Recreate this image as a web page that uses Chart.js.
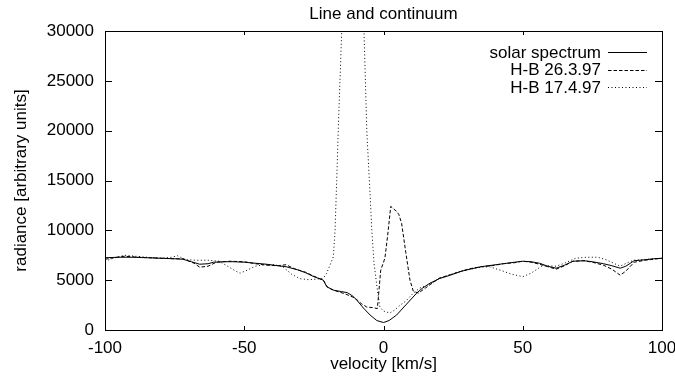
<!DOCTYPE html>
<html>
<head>
<meta charset="utf-8">
<script src="https://cdn.jsdelivr.net/npm/chart.js@4/dist/chart.umd.min.js"></script>
<style>
  body { margin: 0; background: #fff; }
</style>
</head>
<body>
<canvas id="line_chart" width="675" height="379"></canvas>
<script>
// Chart data (velocity in km/s, radiance in arbitrary units)
const chart_title = "Line and continuum";
const x_ticks = [-100, -50, 0, 50, 100];
const y_ticks = [0, 5000, 10000, 15000, 20000, 25000, 30000];

const series_labels = ["solar spectrum", "H-B 26.3.97", "H-B 17.4.97"];

const solar_v = [-100, -95, -90, -85, -80, -75, -72, -69, -66, -63, -61, -57, -54, -50, -46, -42, -38, -35, -31, -28, -25, -21.6, -20.4, -18, -15, -13, -11, -9.6, -7.2, -4.8, -2.4, 0, 2, 4.7, 8.3, 11.9, 14, 16.7, 20, 24, 28, 31, 35, 39, 43, 47, 50, 53, 56, 59, 62, 65, 68, 72, 75, 79, 82, 85, 87, 90, 94, 97, 100];
const solar_r = [7250, 7300, 7300, 7250, 7200, 7150, 7100, 6850, 6600, 6650, 6800, 6850, 6850, 6800, 6700, 6600, 6450, 6350, 6050, 5750, 5350, 5000, 4350, 4000, 3850, 3750, 3400, 3000, 2200, 1500, 950, 750, 950, 1500, 2600, 3700, 4200, 4700, 5150, 5500, 5900, 6100, 6350, 6500, 6650, 6800, 6900, 6850, 6700, 6400, 6200, 6500, 6900, 6950, 6850, 6650, 6450, 6200, 6400, 6950, 7050, 7150, 7200];

const hb_march_v = [-100, -97, -93, -88, -84, -80, -76, -72, -68, -66, -63, -60, -55, -50, -46, -42, -38, -35, -32, -28, -25, -21.6, -20, -17, -14, -11, -9.6, -8, -6, -4, -2.2, -1, 0.5, 1.5, 2.6, 4.7, 5.5, 6.5, 8, 9.5, 10.7, 12.5, 15, 17, 20, 24, 28, 31, 35, 39, 43, 47, 50, 53, 56, 59, 62, 65, 68, 72, 75, 79, 82, 85, 87, 90, 94, 97, 100];
const hb_march_r = [7100, 7250, 7400, 7300, 7250, 7200, 7150, 7150, 6700, 6300, 6400, 6800, 6900, 6850, 6650, 6500, 6450, 6550, 6150, 5800, 5400, 5000, 4250, 3900, 3650, 3300, 3050, 2650, 2300, 2250, 2150, 6000, 7200, 9500, 12400, 11900, 11600, 10700, 7800, 5000, 3900, 3700, 4200, 4600, 5200, 5550, 5900, 6150, 6350, 6450, 6650, 6750, 6900, 6800, 6600, 6350, 6100, 6450, 6900, 6950, 6800, 6500, 6100, 5500, 5900, 6800, 7000, 7100, 7200];

const hb_april_v = [-100, -97, -93, -89, -85, -80, -76, -74, -71, -67, -63, -59, -56, -53, -51.5, -49, -46, -43, -39, -36, -33, -30, -27, -24, -21.6, -20.4, -18, -17.4, -16.8, -16.2, -15, -13, -10, -8, -7, -6, -4.8, -4.2, -3.4, -2.2, -1.3, 0, 2.3, 4, 6, 8, 10.7, 13, 16.7, 20, 24, 28, 32, 35, 38, 42, 46, 50, 53, 57, 62, 65, 69, 73, 77, 80, 83, 85, 88, 90, 95, 100];
const hb_april_r = [6900, 7200, 7500, 7400, 7300, 7200, 7300, 7450, 7050, 7000, 7000, 6900, 6400, 5900, 5700, 6000, 6400, 6550, 6550, 6300, 5600, 5150, 5050, 5100, 5200, 5700, 7350, 10000, 15000, 20500, 30000, 35000, 36000, 34000, 30000, 20000, 13500, 10000, 6700, 4000, 2300, 1900, 1700, 2000, 2500, 2900, 3700, 4200, 4600, 5150, 5550, 5900, 6150, 6300, 6350, 6000, 5600, 5350, 5700, 6450, 6400, 6700, 7200, 7300, 7300, 7050, 6650, 6400, 6800, 7000, 7100, 7200];

// pairing the arrays into points
function toPoints(v_list, r_list) {
  return v_list.map((v, i) => ({ x: v, y: r_list[i] }));
}

const font_family = "'Liberation Sans', Arial, Helvetica, sans-serif";
Chart.defaults.font.family = font_family;
Chart.defaults.font.size = 17;
Chart.defaults.color = "#000";

const line_dashes = [[], [3.5, 2], [1, 2.5]];

// frame, inward ticks, title and legend like gnuplot
const gnuplotFrame = {
  id: "gnuplot_frame",
  afterDraw(chart) {
    const ctx = chart.ctx;
    const area = chart.chartArea;
    const x_scale = chart.scales.x;
    const y_scale = chart.scales.y;
    ctx.save();
    ctx.strokeStyle = "#000";
    ctx.lineWidth = 1;
    ctx.strokeRect(area.left + 0.5, area.top + 0.5, area.right - area.left, area.bottom - area.top);

    ctx.beginPath();
    x_ticks.forEach((t) => {
      const px = Math.round(x_scale.getPixelForValue(t)) + 0.5;
      ctx.moveTo(px, area.bottom);
      ctx.lineTo(px, area.bottom - 4);
      ctx.moveTo(px, area.top);
      ctx.lineTo(px, area.top + 4);
    });
    y_ticks.forEach((t) => {
      const py = Math.round(y_scale.getPixelForValue(t)) + 0.5;
      ctx.moveTo(area.left, py);
      ctx.lineTo(area.left + 7, py);
      ctx.moveTo(area.right, py);
      ctx.lineTo(area.right - 7, py);
    });
    ctx.stroke();

    // title centred over the plot
    ctx.fillStyle = "#000";
    ctx.font = "17px " + font_family;
    ctx.textAlign = "center";
    ctx.textBaseline = "middle";
    ctx.fillText(chart_title, (area.left + area.right) / 2, 14);

    // legend: text then line sample
    ctx.textAlign = "right";
    chart.data.datasets.forEach((ds, i) => {
      const row_y = 53 + i * 17.6;
      ctx.fillText(ds.label, 601, row_y);
      ctx.beginPath();
      ctx.setLineDash(line_dashes[i]);
      ctx.moveTo(608, Math.round(row_y) - 0.5);
      ctx.lineTo(647, Math.round(row_y) - 0.5);
      ctx.stroke();
    });
    ctx.restore();
  },
};

const datasets = [
  { label: series_labels[0], data: toPoints(solar_v, solar_r) },
  { label: series_labels[1], data: toPoints(hb_march_v, hb_march_r) },
  { label: series_labels[2], data: toPoints(hb_april_v, hb_april_r) },
].map((ds, i) => ({
  ...ds,
  borderColor: "#000",
  borderWidth: 1,
  borderDash: line_dashes[i],
  pointRadius: 0,
  tension: 0,
  fill: false,
}));

const config = {
  type: "line",
  data: { datasets: datasets },
  options: {
    responsive: false,
    animation: false,
    devicePixelRatio: 1,
    layout: { padding: { top: 31, right: 0, left: 0, bottom: 0 } },
    plugins: {
      legend: { display: false },
      title: { display: false },
      tooltip: { enabled: false },
    },
    scales: {
      x: {
        type: "linear",
        min: -100,
        max: 100,
        afterBuildTicks: (scale) => {
          scale.ticks = x_ticks.map((v) => ({ value: v }));
        },
        afterFit: (scale) => {
          scale.height = 49;
          scale.paddingLeft = 0;
          scale.paddingRight = 13; // keep plot right edge at 662
        },
        ticks: { padding: 8, maxRotation: 0 },
        grid: { display: false, drawTicks: false },
        border: { display: false },
        title: { display: true, text: "velocity [km/s]", padding: { top: 0, bottom: 4 } },
      },
      y: {
        type: "linear",
        min: 0,
        max: 30000,
        afterBuildTicks: (scale) => {
          scale.ticks = y_ticks.map((v) => ({ value: v }));
        },
        afterFit: (scale) => {
          scale.width = 105;
        },
        ticks: { padding: 11, callback: (v) => String(v) },
        grid: { display: false, drawTicks: false },
        border: { display: false },
        title: { display: true, text: "radiance [arbitrary units]", padding: { top: 11, bottom: 0 } },
      },
    },
  },
  plugins: [gnuplotFrame],
};

let ctx = document.getElementById("line_chart").getContext("2d");
const myChart = new Chart(ctx, config);
</script>
</body>
</html>
